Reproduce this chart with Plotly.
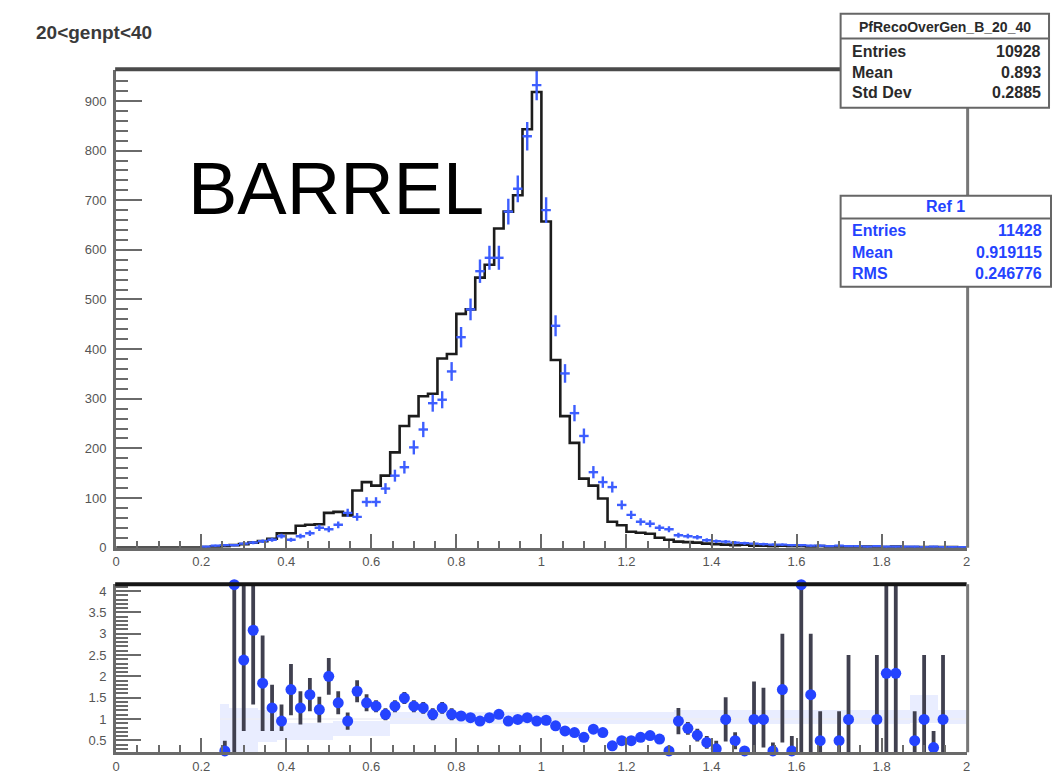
import plotly.graph_objects as go

# ---- binning -------------------------------------------------------------
N_BINS = 90
X_MIN, X_MAX = 0.0, 2.0

# PFRecoOverGen_B_20_40 : counts per bin (black histogram)
reco_counts = [0, 0, 0, 0, 0, 0, 0, 0, 0, 1,
               2, 3, 5, 7, 10, 13, 18, 29, 29, 44,
               46, 47, 70, 72, 65, 115, 132, 125, 145, 192,
               245, 265, 305, 310, 381, 390, 471, 480, 544, 570,
               643, 677, 710, 843, 918, 657, 378, 265, 211, 139,
               125, 99, 52, 45, 32, 30, 28, 20, 16, 12,
               11, 10, 8, 7, 6, 5, 6, 4, 4, 3,
               4, 3, 3, 2, 3, 2, 2, 1, 2, 2,
               1, 1, 2, 1, 1, 1, 1, 1, 1, 0]

# Ref 1 : counts per bin (blue points)
ref_counts = [None, None, None, None, None, None, None, None, None, 2,
              4, 5, 5, 8, 10, 13, 16, 23, 16, 23,
              29, 40, 37, 46, 70, 62, 92, 92, 119, 145,
              162, 202, 238, 291, 298, 355, 424, 480, 557, 584,
              584, 677, 723, 829, 932, 680, 447, 351, 271, 225,
              152, 132, 122, 86, 66, 52, 48, 40, 37, 25,
              23, 21, 15, 13, 12, 10, 9, 8, 7, 6,
              6, 5, 5, 4, 4, 3, 4, 3, 3, 2,
              3, 2, 2, 2, 2, 1, 2, 1, 1, 1]

# ratio histogram / reference per bin
ratio = [None] * 11 + [
    0.25, 4.15, 2.38, 3.08, 1.84, 1.26, 0.95, 1.69, 1.26,
    1.57, 1.22, 2.00, 1.38, 0.95, 1.65, 1.38, 1.30, 1.11, 1.30,
    1.49, 1.30, 1.26, 1.11, 1.26, 1.11, 1.07, 1.03, 0.95, 1.03,
    1.11, 0.95, 0.99, 1.03, 0.95, 0.97, 0.84, 0.72, 0.68, 0.57,
    0.76, 0.68, 0.37, 0.49, 0.49, 0.57, 0.61, 0.53, 0.25, 0.95,
    0.78, 0.62, 0.45, 0.30, 0.99, 0.49, 0.25, 0.99, 0.99, 0.25,
    1.69, 0.25, 4.15, 1.57, 0.49, None, 0.49, 0.99, None, None,
    0.99, 2.07, 2.07, None, 0.49, 0.99, 0.33, 0.99, None, None]

ratio_err_up = [0] * 11 + [
    0.24, 0.30, 1.80, 1.10, 1.12, 0.54, 0.39, 0.60, 0.39,
    0.39, 0.30, 0.43, 0.27, 0.20, 0.26, 0.20, 0.14, 0.14, 0.14,
    0.14, 0.14, 0.14, 0.14, 0.14, 0.14, 0.07, 0.07, 0.07, 0.07,
    0.07, 0.07, 0.07, 0.07, 0.07, 0.07, 0.10, 0.10, 0.10, 0.10,
    0.10, 0.10, 0.10, 0.10, 0.10, 0.10, 0.10, 0.10, 0.12, 0.31,
    0.15, 0.15, 0.15, 0.19, 0.52, 0.20, 0.10, 0.89, 0.74, 0.20,
    1.31, 0.35, 0.30, 1.43, 0.69, 0, 0.69, 1.51, 0, 0,
    1.51, 2.20, 2.20, 0, 0.69, 1.51, 0.39, 1.51, 0, 0]

ratio_err_dn = [0] * 11 + [
    0.05, 3.95, 1.66, 1.74, 1.12, 0.54, 0.23, 0.60, 0.39,
    0.39, 0.30, 0.43, 0.27, 0.20, 0.26, 0.20, 0.14, 0.14, 0.14,
    0.14, 0.14, 0.14, 0.14, 0.14, 0.14, 0.07, 0.07, 0.07, 0.07,
    0.07, 0.07, 0.07, 0.07, 0.07, 0.07, 0.10, 0.10, 0.10, 0.10,
    0.10, 0.10, 0.10, 0.10, 0.10, 0.10, 0.10, 0.10, 0.03, 0.31,
    0.15, 0.15, 0.15, 0.10, 0.52, 0.20, 0.03, 0.81, 0.66, 0.03,
    1.24, 0.03, 3.97, 1.39, 0.31, 0, 0.31, 0.81, 0, 0,
    0.81, 1.89, 1.89, 0, 0.31, 0.81, 0.15, 0.81, 0, 0]

# reference uncertainty band in the ratio panel
band_lo = [None] * 11 + [0.22, 0.22, 0.22, 0.22, 0.45, 0.45, 0.50] + [0.50] * 5 \
    + [0.60] * 6 + [0.88] * 30 + [0.88] * 25 + [0.90] * 3 + [0.88] * 3
band_hi = [None] * 11 + [1.35, 1.25, 1.25, 1.25, 1.20, 1.20, 0.95] + [0.90] * 5 \
    + [0.95] * 6 + [1.15] * 30 + [1.20] * 25 + [1.55] * 3 + [1.20] * 3

stats_main = [("Entries", "10928"), ("Mean", "0.893"), ("Std Dev", "0.2885")]
stats_ref = [("Entries", "11428"), ("Mean", "0.919115"), ("RMS", "0.246776")]

# ---- derived bin geometry ------------------------------------------------
bw = (X_MAX - X_MIN) / N_BINS
edges = [X_MIN + i * bw for i in range(N_BINS + 1)]
centers = [X_MIN + (i + 0.5) * bw for i in range(N_BINS)]

W, H = 1056, 781
def px(x):
    return x / W
def py(y):
    return 1 - y / H

BLUE = "#2443ff"
BLUE_CROSS = "#3d5eff"
AXIS_GREY = "#6a6a6a"
TICK_FONT = dict(family="Liberation Sans", size=13, color="#555555")

fig = go.Figure()

# black step histogram
fig.add_trace(go.Scatter(
    x=edges, y=reco_counts + [reco_counts[-1]],
    mode="lines", line=dict(color="#1c1c1c", width=2.6, shape="hv"),
    xaxis="x", yaxis="y", hoverinfo="skip"))

# blue reference points with error crosses
fig.add_trace(go.Scatter(
    x=centers, y=ref_counts, mode="markers",
    marker=dict(size=2, color=BLUE_CROSS),
    error_x=dict(type="constant", value=bw / 2, width=0, thickness=2.4, color=BLUE_CROSS),
    error_y=dict(type="sqrt", width=0, thickness=2.4, color=BLUE_CROSS),
    xaxis="x", yaxis="y", hoverinfo="skip"))

# ratio panel: reference band
band_height = [None if lo is None else hi - lo for lo, hi in zip(band_lo, band_hi)]
fig.add_trace(go.Bar(
    x=centers, y=band_height, base=band_lo, width=bw,
    marker=dict(color="rgba(170,185,255,0.26)", line=dict(width=0)),
    xaxis="x2", yaxis="y2", hoverinfo="skip"))

# ratio = 1 reference line
fig.add_trace(go.Scatter(
    x=[centers[11] - bw / 2, X_MAX], y=[1, 1], mode="lines",
    line=dict(color="#eeeef4", width=1.5),
    xaxis="x2", yaxis="y2", hoverinfo="skip"))

# ratio error bars
fig.add_trace(go.Scatter(
    x=centers, y=ratio, mode="markers",
    marker=dict(size=1, color="rgba(0,0,0,0)"),
    error_y=dict(type="data", symmetric=False, array=ratio_err_up,
                 arrayminus=ratio_err_dn, width=0, thickness=3.8, color="#40404f"),
    xaxis="x2", yaxis="y2", hoverinfo="skip"))

# ratio markers
fig.add_trace(go.Scatter(
    x=centers, y=ratio, mode="markers",
    marker=dict(size=11, color=BLUE),
    cliponaxis=False, xaxis="x2", yaxis="y2", hoverinfo="skip"))

x_dom = [px(113), px(970)]
common_x = dict(
    range=[X_MIN, X_MAX], tick0=0, dtick=0.2, ticks="inside", ticklen=14,
    tickwidth=2, tickcolor=AXIS_GREY, showline=True, linewidth=3,
    linecolor=AXIS_GREY, showgrid=False, zeroline=False, tickfont=TICK_FONT,
    minor=dict(ticks="inside", ticklen=7, tickwidth=2, tickcolor=AXIS_GREY, dtick=0.05),
    domain=x_dom)

fig.update_layout(
    width=W, height=781, margin=dict(l=0, r=0, t=0, b=0),
    paper_bgcolor="white", plot_bgcolor="white", showlegend=False,
    bargap=0,
    xaxis=dict(common_x, anchor="y"),
    yaxis=dict(domain=[py(553), py(70)], range=[0, 962], tick0=0, dtick=100,
               ticks="inside", ticklen=26, tickwidth=2, tickcolor=AXIS_GREY,
               showline=True, linewidth=3, linecolor=AXIS_GREY, showgrid=False,
               zeroline=False, tickfont=TICK_FONT, ticklabelstandoff=4,
               minor=dict(ticks="inside", ticklen=12, tickwidth=2,
                          tickcolor=AXIS_GREY, dtick=20),
               anchor="x"),
    xaxis2=dict(common_x, anchor="y2"),
    yaxis2=dict(domain=[py(760), py(590)], range=[0.22, 4.16], tick0=0.5, dtick=0.5,
                ticks="inside", ticklen=25, tickwidth=2, tickcolor=AXIS_GREY,
                showline=True, linewidth=3, linecolor=AXIS_GREY, showgrid=False,
                zeroline=False, tickfont=TICK_FONT, ticklabelstandoff=4,
                minor=dict(ticks="inside", ticklen=12, tickwidth=2,
                           tickcolor=AXIS_GREY, tick0=0, dtick=0.1),
                anchor="x2"),
)

shapes = [
    # frames of the upper pad
    dict(type="line", xref="paper", yref="paper", x0=px(112), x1=px(970),
         y0=py(69), y1=py(69), line=dict(color="#4a4a4a", width=4)),
    dict(type="line", xref="paper", yref="paper", x0=px(971), x1=px(971),
         y0=py(69), y1=py(553), line=dict(color="#777777", width=3)),
    # frames of the ratio pad
    dict(type="line", xref="paper", yref="paper", x0=px(112), x1=px(970),
         y0=py(590), y1=py(590), line=dict(color="#151515", width=4)),
    dict(type="line", xref="paper", yref="paper", x0=px(971), x1=px(971),
         y0=py(590), y1=py(760), line=dict(color="#777777", width=3)),
    # statistics boxes
    dict(type="rect", xref="paper", yref="paper", x0=px(843), x1=px(1053),
         y0=py(108), y1=py(13), fillcolor="white", line=dict(color="#666666", width=2)),
    dict(type="line", xref="paper", yref="paper", x0=px(843), x1=px(1053),
         y0=py(38), y1=py(38), line=dict(color="#666666", width=2)),
    dict(type="rect", xref="paper", yref="paper", x0=px(843), x1=px(1055),
         y0=py(289), y1=py(197), fillcolor="white", line=dict(color="#666666", width=2)),
    dict(type="line", xref="paper", yref="paper", x0=px(843), x1=px(1055),
         y0=py(220), y1=py(220), line=dict(color="#666666", width=2)),
]
for s in shapes:
    s["layer"] = "above"
fig.update_layout(shapes=shapes)

ann = []
def text(x, y, s, size, color, xanchor="left", weight="bold", family="Liberation Sans"):
    ann.append(dict(x=px(x), y=py(y), xref="paper", yref="paper", text=s,
                    showarrow=False, xanchor=xanchor, yanchor="middle",
                    font=dict(family=family, size=size, color=color, weight=weight)))

text(30, 32, "20&lt;genpt&lt;40", 19, "#3a3a3a")
text(183, 190, "BARREL", 74, "black", weight="normal")

text(948, 26, "PfRecoOverGen_B_20_40", 14, "#2a2a2a", xanchor="center")
for i, (k, v) in enumerate(stats_main):
    yy = 51 + i * 21
    text(852, yy, k, 16, "#2a2a2a")
    text(1047, yy, v, 16, "#2a2a2a", xanchor="right")

text(949, 208, "Ref 1", 16, BLUE, xanchor="center")
for i, (k, v) in enumerate(stats_ref):
    yy = 232 + i * 22
    text(852, yy, k, 16, BLUE)
    text(1048, yy, v, 16, BLUE, xanchor="right")

fig.update_layout(annotations=ann)

fig.write_html("out.html")
